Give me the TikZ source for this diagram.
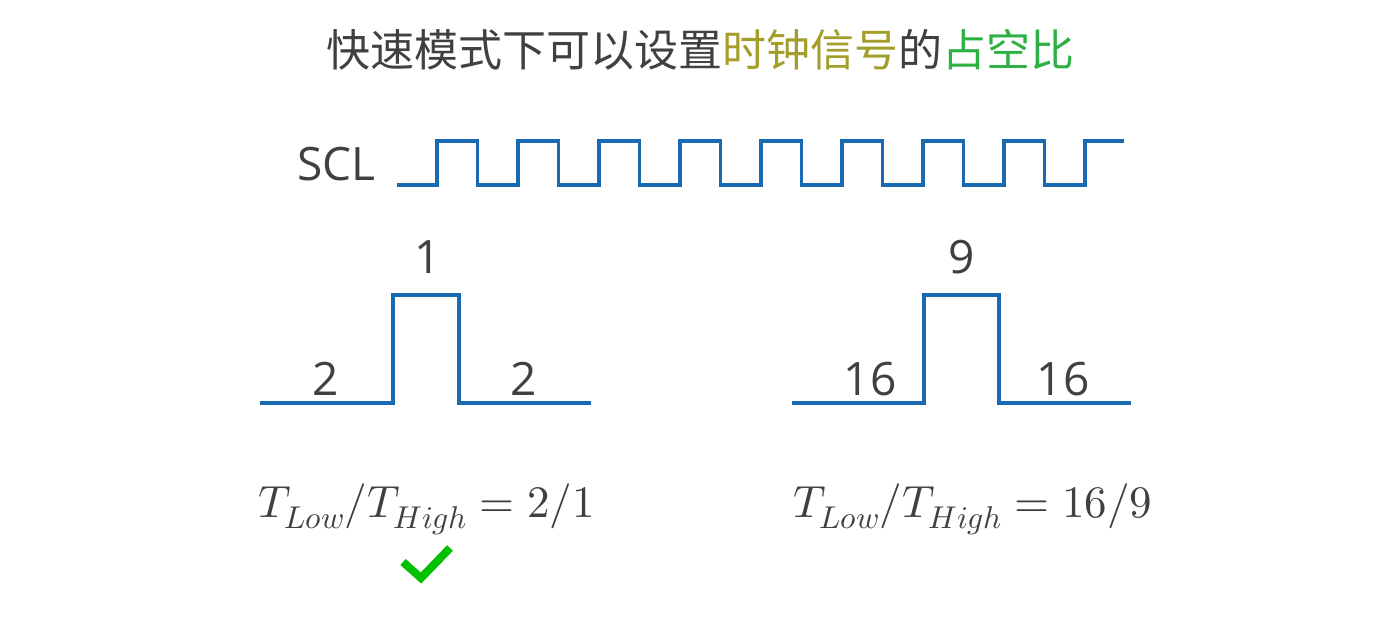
\documentclass[tikz,border=0pt]{standalone}
\usepackage{fontspec}
\usepackage{unicode-math}
\setmainfont{Open Sans}
\setmathfont{Latin Modern Math}
\newfontfamily\cjkfont{Noto Sans CJK SC}
\usepackage{tikz}
\usetikzlibrary{positioning}

\definecolor{textgrau}{HTML}{404040}
\definecolor{oliv}{HTML}{A39E2A}
\definecolor{gruen}{HTML}{2EB045}
\definecolor{signalblau}{HTML}{1A6AB3}
\definecolor{haken}{HTML}{00C000}

\begin{document}
\begin{tikzpicture}[x=1pt,y=-1pt,
    signal/.style={signalblau,line width=3.5pt},
    ziffer/.style={textgrau,font=\fontsize{46}{50}\selectfont,anchor=base,inner sep=0pt},
    formel/.style={textgrau,font=\fontsize{45}{50}\selectfont,anchor=base west,inner sep=0pt}]
        \useasboundingbox[fill=white] (0,0) rectangle (1398,630);

        % Titel
        \node[textgrau,anchor=base,inner sep=0pt,font=\cjkfont\fontsize{44}{48}\selectfont] (titel) at (700,66)
          {快速模式下可以设置\textcolor{oliv}{时钟信号}的\textcolor{gruen}{占空比}};

        % SCL-Takt
        \node[ziffer,anchor=base west] (scl) at (297,180) {SCL};
        \draw[signal] (397,185) foreach \k in {0,...,7} {
            -- (437+81*\k,185) -- (437+81*\k,141) -- (477.5+81*\k,141) -- (477.5+81*\k,185)
          } -- (1085,185) -- (1085,141) -- (1124,141);

        % Puls 2:1:2
        \draw[signal] (260,403) -- (393,403) -- (393,295) -- (459,295) -- (459,403) -- (591,403);
        \node[ziffer] (lowA) at (326,395) {2};
        \node[ziffer] (highA) at (428,273) {1};
        \node[ziffer] (lowB) at (524,395) {2};

        % Puls 16:9:16
        \draw[signal] (792,403) -- (924,403) -- (924,295) -- (999,295) -- (999,403) -- (1131,403);
        \node[ziffer] (lowC) at (870,395) {16};
        \node[ziffer] (highB) at (962,273) {9};
        \node[ziffer] (lowD) at (1063,395) {16};

        % Verhaeltnisse
        \node[formel] (verhA) at (258,517) {$T_{Low}/T_{High}=2/1$};
        \node[formel] (verhB) at (793,517) {$T_{Low}/T_{High}=16/9$};

        % Haken
        \draw[haken,line width=8pt] (403,562) -- (421,578) -- (450,548);
      \end{tikzpicture}
\end{document}
